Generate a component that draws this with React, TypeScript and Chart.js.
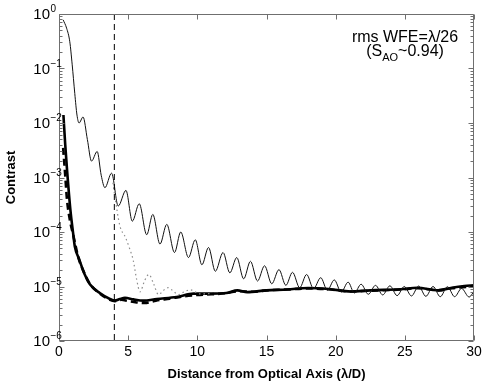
import React, { useEffect, useRef } from "react";
import { Chart, registerables } from "chart.js";
Chart.register(...registerables);

// Thin solid curve (uncorrected / reference PSF)
const thinX = [0.3, 0.55, 0.78, 0.95, 1.14, 1.3, 1.45, 1.74, 2.05, 2.35, 2.76, 3.05, 3.32, 3.8, 4.28, 4.84, 5.3, 5.8, 6.34, 6.78, 7.3, 7.79, 8.35, 8.8, 9.36, 9.85, 10.33, 10.81, 11.3, 11.86, 12.35, 12.85, 13.35, 13.84, 14.35, 14.86, 15.38, 15.9, 16.4, 16.88, 17.4, 17.9, 18.4, 18.92, 19.4, 19.9, 20.4, 20.9, 21.35, 21.84, 22.36, 22.88, 23.4, 23.92, 24.44, 24.96, 25.48, 26.0, 26.52, 27.04, 27.56, 28.08, 28.6, 29.1, 29.65, 30.0];
const thinY = [0.78, 0.55, 0.31, 0.12, 0.035, 0.014, 0.01, 0.0129, 0.005, 0.002, 0.003, 0.0011, 0.00065, 0.0012, 0.0003, 0.00058, 0.000158, 0.00033, 0.000089, 0.00021, 0.00006, 0.000138, 0.000042, 0.0001, 0.000034, 0.000072, 0.000025, 0.000052, 0.000019, 0.000042, 0.0000178, 0.000034, 0.0000138, 0.000029, 0.0000126, 0.000024, 0.0000112, 0.0000204, 0.0000105, 0.0000182, 0.0000095, 0.0000166, 0.0000091, 0.0000145, 0.0000085, 0.0000132, 0.0000079, 0.000012, 0.0000076, 0.000011, 0.0000072, 0.0000105, 0.000007, 0.0000103, 0.0000068, 0.00001, 0.0000067, 0.0000102, 0.0000066, 0.00001, 0.0000065, 0.0000099, 0.0000065, 0.0000092, 0.0000064, 0.0000082];

// Thick solid curve
const thickX = [0.32, 0.45, 0.58, 0.82, 1.02, 1.14, 1.45, 1.86, 2.23, 2.95, 3.68, 4.04, 4.4, 4.77, 5.37, 6.1, 7.07, 8.5, 9.73, 10.9, 12.1, 12.9, 13.6, 15.0, 16.5, 18.0, 19.5, 21.1, 22.5, 24.7, 25.9, 27.4, 28.4, 29.3, 30.0];
const thickY = [0.014, 0.004, 0.0014, 0.00026, 0.000095, 0.000055, 0.000032, 0.0000166, 0.000011, 0.0000076, 0.0000059, 0.0000055, 0.0000059, 0.0000062, 0.0000058, 0.0000055, 0.0000059, 0.0000064, 0.0000074, 0.0000074, 0.0000076, 0.0000085, 0.0000079, 0.0000085, 0.0000088, 0.0000094, 0.000009, 0.0000081, 0.0000085, 0.0000089, 0.0000095, 0.0000085, 0.0000095, 0.0000102, 0.0000105];

// Thick dashed curve
const dashX = [0.3, 0.45, 0.58, 0.78, 1.02, 1.4, 1.86, 2.23, 2.95, 3.68, 4.04, 4.5, 5.0, 5.6, 6.2, 7.0, 8.0, 9.0, 10.0, 11.0, 12.0, 13.0, 14.0, 15.0, 16.5, 18.0, 19.5, 21.0, 22.5, 24.7, 26.0, 27.4, 28.4, 30.0];
const dashY = [0.0035, 0.0011, 0.00039, 0.00017, 0.00009, 0.000034, 0.000017, 0.0000112, 0.0000074, 0.0000057, 0.0000054, 0.0000057, 0.0000054, 0.0000051, 0.000005, 0.0000055, 0.000006, 0.0000066, 0.000007, 0.0000072, 0.0000075, 0.0000082, 0.000008, 0.0000085, 0.0000088, 0.0000092, 0.0000089, 0.0000081, 0.0000084, 0.0000088, 0.0000093, 0.0000085, 0.0000093, 0.00001];

// Dotted gray curve
const dotX = [3.9, 4.04, 4.4, 4.8, 5.1, 5.37, 5.6, 5.86, 6.2, 6.5, 6.85, 7.19, 7.55, 7.9, 8.25, 8.64, 9.05, 9.5, 10.2, 11.0];
const dotY = [0.0008, 0.00045, 0.00013, 0.00008, 0.00005, 0.00003, 0.000014, 0.000008, 0.000013, 0.0000166, 0.000011, 0.0000071, 0.0000085, 0.0000095, 0.0000083, 0.0000071, 0.000008, 0.0000087, 0.0000073, 0.0000074];

// Vertical dashed marker
const markX = [4, 4];
const markY = [1, 0.000001];

const xTickValues = [0, 5, 10, 15, 20, 25, 30];
const yTickExponents = [0, -1, -2, -3, -4, -5, -6];

const FONT = "'Liberation Sans', Arial, Helvetica, sans-serif";

function toPoints(xs: number[], ys: number[]) {
  return xs.map((x, i) => ({ x, y: ys[i] }));
}

export default function App() {
  const ref = useRef<HTMLCanvasElement>(null);

  useEffect(() => {
    document.body.style.margin = "0";
    const canvas = ref.current!;

    const deco = {
      id: "deco",
      afterDraw(chart: any) {
        const { ctx, chartArea: a, scales } = chart;
        const xs = scales.x;
        const ys = scales.y;
        ctx.save();
        const L = Math.round(a.left) + 0.5;
        const R = Math.round(a.right) - 0.5;
        const T = Math.round(a.top) + 0.5;
        const B = Math.round(a.bottom) - 0.5;
        ctx.strokeStyle = "#6f6f6f";
        ctx.lineWidth = 1;
        ctx.beginPath();
        ctx.rect(L, T, R - L, B - T);
        ctx.stroke();

        ctx.beginPath();
        xTickValues.forEach((v) => {
          const px = Math.round(xs.getPixelForValue(v)) + 0.5;
          ctx.moveTo(px, B);
          ctx.lineTo(px, B - 5);
          ctx.moveTo(px, T);
          ctx.lineTo(px, T + 5);
        });
        yTickExponents.forEach((e) => {
          const py = Math.round(ys.getPixelForValue(Math.pow(10, e))) + 0.5;
          ctx.moveTo(L, py);
          ctx.lineTo(L + 5, py);
          ctx.moveTo(R, py);
          ctx.lineTo(R - 5, py);
          if (e > -6) {
            for (let m = 2; m <= 9; m++) {
              const my = Math.round(ys.getPixelForValue(m * Math.pow(10, e - 1))) + 0.5;
              ctx.moveTo(L, my);
              ctx.lineTo(L + 3, my);
              ctx.moveTo(R, my);
              ctx.lineTo(R - 3, my);
            }
          }
        });
        ctx.stroke();

        ctx.fillStyle = "#000";
        ctx.font = `14px ${FONT}`;
        ctx.textAlign = "center";
        ctx.textBaseline = "middle";
        xTickValues.forEach((v) => {
          ctx.fillText(String(v), xs.getPixelForValue(v), a.bottom + 11);
        });

        yTickExponents.forEach((e) => {
          const py = ys.getPixelForValue(Math.pow(10, e));
          ctx.font = `15px ${FONT}`;
          ctx.textAlign = "right";
          ctx.textBaseline = "middle";
          ctx.fillText("10", a.left - 9, py + 1);
          ctx.font = `10px ${FONT}`;
          ctx.textAlign = "left";
          ctx.fillText(e === 0 ? "0" : "\u2212" + String(-e), a.left - 8.5, py - 4.5);
        });

        ctx.font = `bold 13px ${FONT}`;
        ctx.textAlign = "center";
        ctx.textBaseline = "middle";
        ctx.fillText("Distance from Optical Axis (\u03bb/D)", (a.left + a.right) / 2, 374);
        ctx.save();
        ctx.translate(11, (a.top + a.bottom) / 2);
        ctx.rotate(-Math.PI / 2);
        ctx.fillText("Contrast", 0, 0);
        ctx.restore();

        // annotation
        const cx = 405;
        ctx.textBaseline = "alphabetic";
        ctx.font = `16px ${FONT}`;
        ctx.textAlign = "center";
        ctx.fillText("rms WFE=\u03bb/26", cx, 42);
        const p1 = "(S";
        const sub = "AO";
        const p2 = "~0.94)";
        ctx.font = `16px ${FONT}`;
        const w1 = ctx.measureText(p1).width;
        const w3 = ctx.measureText(p2).width;
        ctx.font = `11px ${FONT}`;
        const w2 = ctx.measureText(sub).width;
        let x0 = cx - (w1 + w2 + w3) / 2;
        ctx.textAlign = "left";
        ctx.font = `16px ${FONT}`;
        ctx.fillText(p1, x0, 56);
        x0 += w1;
        ctx.font = `11px ${FONT}`;
        ctx.fillText(sub, x0, 61);
        x0 += w2;
        ctx.font = `16px ${FONT}`;
        ctx.fillText(p2, x0, 56);
        ctx.restore();
      },
    };

    const chart = new Chart(canvas, {
      type: "line",
      data: {
        datasets: [
          {
            data: toPoints(markX, markY),
            borderColor: "#000",
            borderWidth: 1,
            borderDash: [6, 4],
            pointRadius: 0,
            tension: 0,
          },
          {
            data: toPoints(dotX, dotY),
            borderColor: "#8c8c8c",
            borderWidth: 1.2,
            borderDash: [1.5, 3],
            pointRadius: 0,
            cubicInterpolationMode: "monotone",
          },
          {
            data: toPoints(thinX, thinY),
            borderColor: "#111",
            borderWidth: 1,
            pointRadius: 0,
            cubicInterpolationMode: "monotone",
          },
          {
            data: toPoints(dashX, dashY),
            borderColor: "#000",
            borderWidth: 2.6,
            borderDash: [7, 4],
            pointRadius: 0,
            cubicInterpolationMode: "monotone",
          },
          {
            data: toPoints(thickX, thickY),
            borderColor: "#000",
            borderWidth: 2.6,
            pointRadius: 0,
            cubicInterpolationMode: "monotone",
          },
        ] as any,
      },
      options: {
        animation: false,
        responsive: false,
        devicePixelRatio: 1,
        events: [],
        layout: { padding: { left: 59, right: 11, top: 14, bottom: 43 } },
        plugins: { legend: { display: false }, tooltip: { enabled: false } },
        scales: {
          x: { type: "linear", min: 0, max: 30, display: false },
          y: { type: "logarithmic", min: 1e-6, max: 1, display: false },
        },
      } as any,
      plugins: [deco],
    });
    return () => chart.destroy();
  }, []);

  return (
    <canvas
      ref={ref}
      width={485}
      height={384}
      style={{ display: "block", width: 485, height: 384, background: "#fff" }}
    />
  );
}
